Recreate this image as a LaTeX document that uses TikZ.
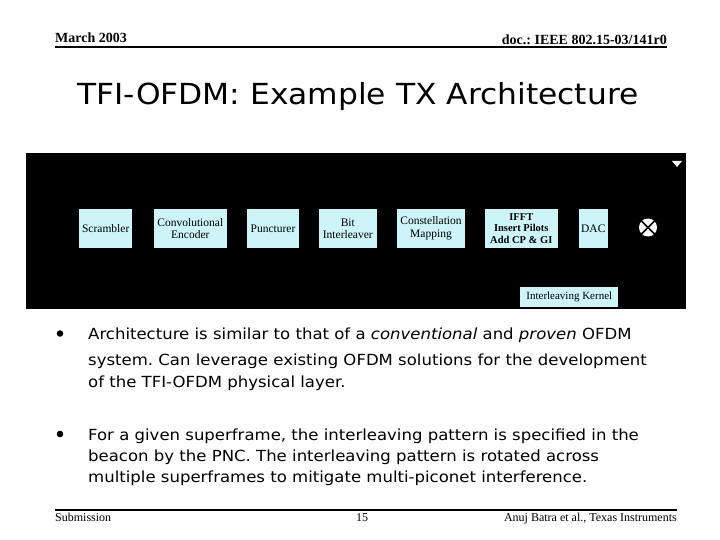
\documentclass[tikz,border=0pt]{standalone}
\usepackage{fontspec}
\setmainfont{Liberation Serif}
\newfontfamily\slidesans[FakeStretch=1.08]{DejaVu Sans}
\newfontfamily\titlesans[FakeStretch=1.08]{DejaVu Sans}
\definecolor{boxcyan}{RGB}{205,244,248}
\frenchspacing
\begin{document}
\begin{tikzpicture}[x=1pt,y=-1pt,
  blk/.style={fill=boxcyan,draw=none,inner sep=0pt,align=center,font=\fontsize{11.5}{12.5}\selectfont},
  hdr/.style={font=\fontsize{14}{16}\selectfont\bfseries,inner sep=0pt},
  ftr/.style={font=\fontsize{12}{14}\selectfont,inner sep=0pt},
  btxt/.style={font=\slidesans\fontsize{15.3}{18}\selectfont,anchor=base west,inner sep=0pt},
  rule/.style={line width=2pt}]
\useasboundingbox (0,0) rectangle (720,540);
\fill[white] (0,0) rectangle (720,540);
% header
\node[hdr,anchor=base west] (date) at (55,43) {March 2003};
\node[hdr,anchor=base east] (doc) at (667,45) {doc.: IEEE 802.15-03/141r0};
\draw[rule] (55,47.5) -- (667,47.5);
% title
\node[font=\titlesans\fontsize{29}{34}\selectfont,inner sep=0pt] (title) at (358,97) {TFI-OFDM: Example TX Architecture};
% black panel
\fill[black] (26,153) rectangle (686,309);
\fill[white] (672,161) -- (682,161) -- (677,167) -- cycle;
% blocks
\node[blk,minimum width=53pt,minimum height=39pt] (scr) at (105.7,228.5) {Scrambler};
\node[blk,minimum width=72.7pt,minimum height=39pt] (conv) at (190.3,228.5) {Convolutional\\Encoder};
\node[blk,minimum width=52.6pt,minimum height=39pt] (punc) at (273,228.5) {Puncturer};
\node[blk,minimum width=57.7pt,minimum height=39pt] (bit) at (347.8,228.5) {Bit\\Interleaver};
\node[blk,minimum width=68pt,minimum height=39pt] (const) at (431,228.5) {Constellation\\Mapping};
\node[blk,minimum width=72.7pt,minimum height=39pt,font=\fontsize{10.5}{11.5}\selectfont\bfseries] (ifft) at (521.3,228.5) {IFFT\\Insert Pilots\\Add CP \& GI};
\node[blk,minimum width=28.7pt,minimum height=39pt] (dac) at (593.3,228.5) {DAC};
\node[blk,minimum width=98pt,minimum height=20pt,font=\fontsize{11}{12}\selectfont] (kern) at (569.3,296.7) {Interleaving Kernel};
% mixer
\node[circle,fill=white,minimum size=18pt,inner sep=0pt] (mix) at (648,227.5) {};
\draw[black,line width=1.6pt] (mix.north east) -- (mix.south west) (mix.north west) -- (mix.south east);
% bullets
\fill (60,333.5) circle (3.3);
\fill (60,434) circle (3.3);
\node[btxt] (b1a) at (88,339) {Architecture is similar to that of a \textit{conventional} and \textit{proven} OFDM};
\node[btxt] (b1b) at (88,365) {system. Can leverage existing OFDM solutions for the development};
\node[btxt] (b1c) at (88,387) {of the TFI-OFDM physical layer.};
\node[btxt] (b2a) at (88,440) {For a given superframe, the interleaving pattern is specified in the};
\node[btxt] (b2b) at (88,461) {beacon by the PNC. The interleaving pattern is rotated across};
\node[btxt] (b2c) at (88,482) {multiple superframes to mitigate multi-piconet interference.};
% footer
\draw[rule] (55,510) -- (677,510);
\node[ftr,anchor=base west] (sub) at (55,521) {Submission};
\node[ftr,anchor=base] (pg) at (362,521) {15};
\node[ftr,anchor=base east] (auth) at (677,521) {Anuj Batra et al., Texas Instruments};
\end{tikzpicture}
\end{document}
